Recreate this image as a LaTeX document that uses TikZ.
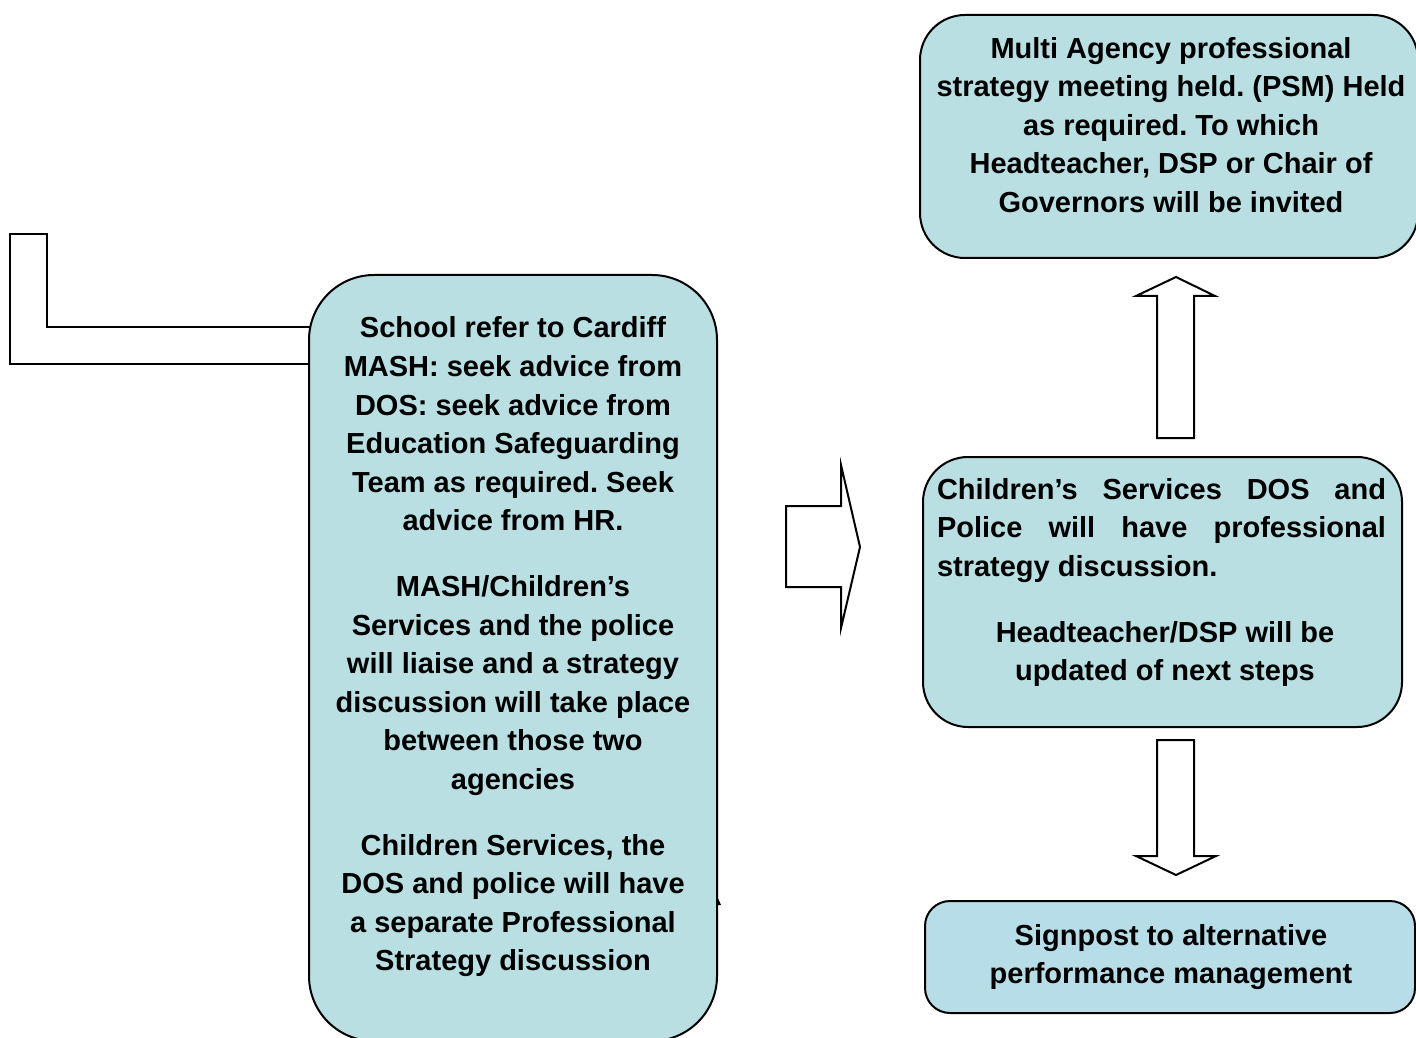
\documentclass[tikz,border=0pt]{standalone}
\usepackage{fontspec}
\setmainfont{Liberation Sans}
\frenchspacing
\definecolor{boxfill}{HTML}{B9DFE3}
\definecolor{boxfillb}{HTML}{B7DDE8}
\begin{document}
\begin{tikzpicture}[x=0.5pt,y=-0.5pt,
  box/.style={draw=black, line width=1pt, fill=boxfill, rounded corners=22.5pt, inner sep=0pt},
  txt/.style={font=\fontsize{14.5}{19.3}\selectfont\bfseries\frenchspacing, inner sep=0pt, align=center},
  blockarrow/.style={draw=black, line width=1pt, fill=white, line join=miter}]
\useasboundingbox (0,0) rectangle (1416,1037);
\clip (0,0) rectangle (1416,1037);

% bent arrow behind the left box
\draw[blockarrow] (330,327) -- (47,327) -- (47,234) -- (10,234) -- (10,364) -- (330,364);

% boxes
\node[box, rounded corners=32.5pt, minimum width=204pt, minimum height=383pt] (mashbox) at (513,658) {};
\node[box, minimum width=249pt, minimum height=121.5pt] (psmbox) at (1169,136.5) {};
\node[box, minimum width=239.5pt, minimum height=135pt] (csbox) at (1162.5,592) {};
\node[box, fill=boxfillb, rounded corners=12.5pt, minimum width=245pt, minimum height=56pt] (signbox) at (1170,957) {};

% small mark
\fill (717,896) -- (721,905) -- (717,905) -- cycle;

% block arrows
\draw[blockarrow] (786,506) -- (841,506) -- (841,465) -- (860,547) -- (841,628) -- (841,587) -- (786,587) -- cycle;
\draw[blockarrow] (1157,438) -- (1157,296) -- (1136,296) -- (1176,277) -- (1215,296) -- (1194,296) -- (1194,438) -- cycle;
\draw[blockarrow] (1157,740) -- (1157,856) -- (1136,856) -- (1176,875) -- (1216,856) -- (1194,856) -- (1194,740) -- cycle;

% texts
\node[txt] (mashtext) at (513,647) {School refer to Cardiff\\MASH: seek advice from\\DOS: seek advice from\\Education Safeguarding\\Team as required. Seek\\advice from HR.\\[13.5pt]
MASH/Children’s\\Services and the police\\will liaise and a strategy\\discussion will take place\\between those two\\agencies\\[13.5pt]
Children Services, the\\DOS and police will have\\a separate Professional\\Strategy discussion};

\node[txt] (psmtext) at (1171,125) {Multi Agency professional\\strategy meeting held. (PSM) Held\\as required. To which\\Headteacher, DSP or Chair of\\Governors will be invited};

\node[txt, align=left] (cstext) at (1161.5,530.5) {\makebox[224.5pt][s]{Children’s Services DOS and}\\\makebox[224.5pt][s]{Police will have professional}\\strategy discussion.};
\node[txt] (httext) at (1165,654) {Headteacher/DSP will be\\updated of next steps};

\node[txt] (signtext) at (1171,957) {Signpost to alternative\\performance management};
\end{tikzpicture}
\end{document}
